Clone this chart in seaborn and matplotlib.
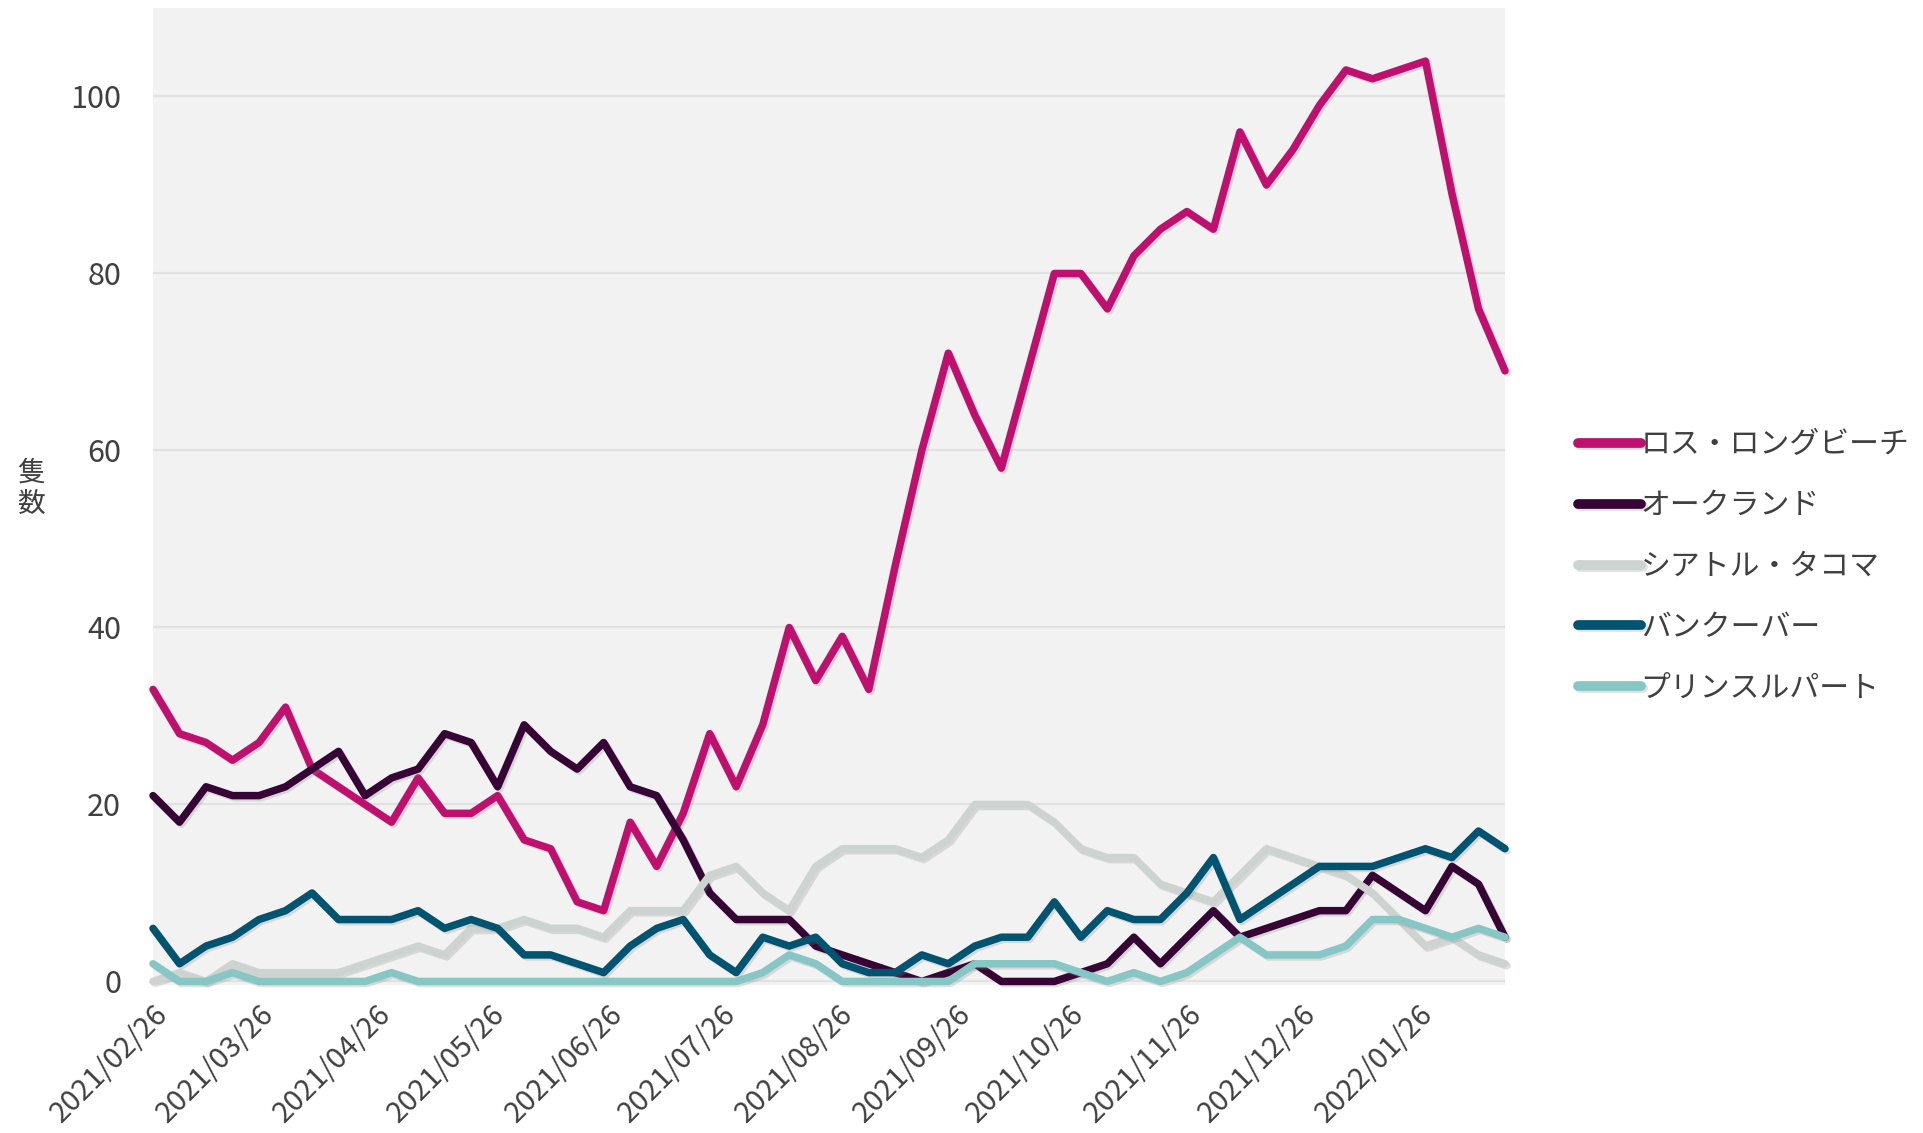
import numpy as np
import pandas as pd
import matplotlib
matplotlib.use("Agg")
import matplotlib.pyplot as plt
import matplotlib.dates as mdates
import matplotlib.patheffects as pe
import seaborn as sns

# ---------------- data ----------------
start_date = "2021-02-26"
n_weeks = 52
ports = ["ロス・ロングビーチ", "オークランド", "シアトル・タコマ", "バンクーバー", "プリンスルパート"]

la_lb = [33, 28, 27, 25, 27, 31, 24, 22, 20, 18, 23, 19, 19, 21, 16, 15, 9, 8, 18, 13,
         19, 28, 22, 29, 40, 34, 39, 33, 47, 60, 71, 64, 58, 69, 80, 80, 76, 82, 85, 87,
         85, 96, 90, 94, 99, 103, 102, 103, 104, 89, 76, 69]
oakland = [21, 18, 22, 21, 21, 22, 24, 26, 21, 23, 24, 28, 27, 22, 29, 26, 24, 27, 22, 21,
           16, 10, 7, 7, 7, 4, 3, 2, 1, 0, 1, 2, 0, 0, 0, 1, 2, 5, 2, 5,
           8, 5, 6, 7, 8, 8, 12, 10, 8, 13, 11, 5]
seattle = [0, 1, 0, 2, 1, 1, 1, 1, 2, 3, 4, 3, 6, 6, 7, 6, 6, 5, 8, 8,
           8, 12, 13, 10, 8, 13, 15, 15, 15, 14, 16, 20, 20, 20, 18, 15, 14, 14, 11, 10,
           9, 12, 15, 14, 13, 12, 10, 7, 4, 5, 3, 2]
vancouver = [6, 2, 4, 5, 7, 8, 10, 7, 7, 7, 8, 6, 7, 6, 3, 3, 2, 1, 4, 6,
             7, 3, 1, 5, 4, 5, 2, 1, 1, 3, 2, 4, 5, 5, 9, 5, 8, 7, 7, 10,
             14, 7, 9, 11, 13, 13, 13, 14, 15, 14, 17, 15]
prince_rupert = [2, 0, 0, 1, 0, 0, 0, 0, 0, 1, 0, 0, 0, 0, 0, 0, 0, 0, 0, 0,
                 0, 0, 0, 1, 3, 2, 0, 0, 0, 0, 0, 2, 2, 2, 2, 1, 0, 1, 0, 1,
                 3, 5, 3, 3, 3, 4, 7, 7, 6, 5, 6, 5]

y_ticks = [0, 20, 40, 60, 80, 100]
x_tick_dates = ["2021-02-26", "2021-03-26", "2021-04-26", "2021-05-26", "2021-06-26",
                "2021-07-26", "2021-08-26", "2021-09-26", "2021-10-26", "2021-11-26",
                "2021-12-26", "2022-01-26"]
y_label = "隻\n数"

colors = ["#C0106F", "#360535", "#CDD3D0", "#005470", "#86C6C4"]

# ---------------- build frame ----------------
dates = pd.date_range(start_date, periods=n_weeks, freq="7D")
series = [la_lb, oakland, seattle, vancouver, prince_rupert]
frames = []
for name, vals in zip(ports, series):
    frames.append(pd.DataFrame({"date": dates, "value": vals, "port": name}))
df = pd.concat(frames, ignore_index=True)

# ---------------- style ----------------
sns.set_style("white")
plt.rcParams["font.family"] = ["Noto Sans CJK JP", "DejaVu Sans"]

fig = plt.figure(figsize=(19.24, 11.33), dpi=100)
ax = fig.add_axes([153 / 1924, 1 - 985 / 1133, (1505 - 153) / 1924, (985 - 8) / 1133])
ax.set_facecolor("#F2F2F2")

sns.lineplot(data=df, x="date", y="value", hue="port", hue_order=ports,
             palette=colors, linewidth=5.4, ax=ax, legend=True)

for line in ax.get_lines():
    line.set_clip_on(False)
    line.set_solid_joinstyle("round")
    line.set_solid_capstyle("round")
    line.set_path_effects([pe.SimpleLineShadow(offset=(1.5, -1.5), shadow_color="#888888", alpha=0.25),
                           pe.Normal()])

ax.set_xlim(dates[0], dates[-1])
ax.set_ylim(-0.4, 110)
ax.set_yticks(y_ticks)
ax.set_xticks(pd.to_datetime(x_tick_dates))
ax.xaxis.set_major_formatter(mdates.DateFormatter("%Y/%m/%d"))

ax.grid(axis="y", color="#E1E1E1", linewidth=1.6)
ax.grid(axis="x", visible=False)
ax.set_axisbelow(True)
for s in ax.spines.values():
    s.set_visible(False)

ax.tick_params(axis="y", length=0, pad=23, labelsize=22, labelcolor="#404040")
ax.tick_params(axis="x", length=0, pad=10, labelsize=21, labelcolor="#404040")
for lab in ax.get_xticklabels():
    lab.set_rotation(45)
    lab.set_ha("right")
    lab.set_va("top")
    lab.set_rotation_mode("anchor")

ax.set_xlabel("")
ax.set_ylabel("")
fig.text(31 / 1924, 1 - 488 / 1133, y_label, ha="center", va="center",
         fontsize=20, color="#404040", linespacing=1.05)

handles, labels = ax.get_legend_handles_labels()
ax.get_legend().remove()
leg = fig.legend(handles, labels, loc="center left", bbox_to_anchor=(1566 / 1924, 0.5),
                 frameon=False, fontsize=21.5, handlelength=2.1, handletextpad=0.0,
                 labelspacing=1.0, borderaxespad=0)
for h in leg.get_lines():
    h.set_linewidth(7)
    h.set_solid_capstyle("round")
for t in leg.get_texts():
    t.set_color("#404040")

fig.savefig("out.png", dpi=100, facecolor="white")
